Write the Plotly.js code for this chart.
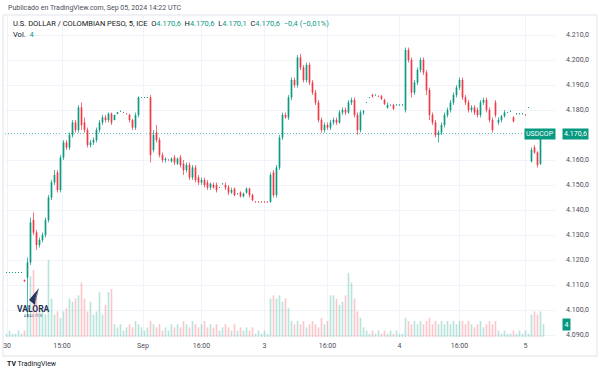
<!DOCTYPE html>
<html><head><meta charset="utf-8">
<script src="https://cdn.plot.ly/plotly-3.0.1.min.js"></script>
<style>html,body{margin:0;padding:0;background:#fff;} #chart{width:600px;height:374px;}</style>
</head><body><div id="chart"></div>
<script>
// ---- Data (USD/COP, 5-minute bars) ----
const openP = [
4115,4115,4115,4115,4115,4115,4112,4113,4119,4136,
4131,4126,4128,4130,4136,4145,4151,4155,4148,4161,
4167,4165,4170,4175,4172,4181,4175,4172,4166,4167,
4168,4172,4175,4177,4176,4178.5,4176,4178.5,4179.5,4179,
4178.5,4178,4176,4173,4178,4185,4185,4185,4185,4164,
4171,4168,4162,4160,4160,4159.5,4161,4158.5,4161,4158.5,
4156,4158,4153,4157,4153,4151,4152,4151,4149,4150,
4150,4149,4150.5,4150,4149,4147,4148.5,4146.5,4147,4145.5,
4147,4148.5,4146,4143.2,4143.2,4143.2,4143.2,4143.2,4143.2,4155,
4146,4157,4169,4178,4177,4185,4192,4190,4201,4197,
4192,4198,4191,4187,4183,4176,4172,4174,4173,4175,
4176,4175,4179,4180,4179,4183,4184,4178,4172,4179,
4183,4185,4186,4186,4185.5,4185.5,4184,4181,4182,4182,
4182,4182,4182,4180,4204,4200,4187,4191,4196,4200,
4195,4188,4178,4175,4170,4171,4174,4178,4180,4183,
4186,4189,4192,4185,4183,4180,4181,4180,4178,4183,
4184,4180,4176,4183,4175,4176,4177.5,4179,4179.5,4177,
4178.5,4178.5,4178.5,4178,4181,4159.5,4165,4163,4158.5,4170.6];
const highP = [
4115,4115.2,4115,4115,4115,4115,4112,4121,4137,4139,
4132,4129,4131,4137,4146,4152,4156,4156,4162,4168,
4168,4171,4176,4176,4182,4183,4177,4173,4168,4169,
4173,4176,4178,4178,4179,4179,4178,4179,4179.5,4179,
4178.5,4178.5,4176.5,4179,4185.5,4185.2,4185,4185,4186,4172,
4174,4169,4163,4161,4160,4161,4162,4161,4162,4160,
4159,4159,4158,4158,4154,4153,4153,4152,4151,4151,
4151,4149,4150.5,4151,4150,4149,4149,4146.5,4147.5,4147,
4149,4149,4146.5,4143.2,4143.2,4143.2,4143.2,4143.2,4155,4156,
4158,4170,4179,4179,4186,4193,4193,4202,4202.5,4198,
4199,4199,4192,4188,4184,4177,4175,4175,4176,4177,
4177,4180,4181,4181,4184,4185,4185,4179,4180,4180,
4183,4185,4186.5,4186,4185.5,4186,4184.5,4183,4182,4182.5,
4182,4182,4182,4205,4205,4201,4192,4197,4201,4201,
4196,4189,4179,4176,4172,4175,4179,4181,4184,4187,
4190,4193,4193,4186,4184,4182,4182,4181,4184,4185,
4185,4181,4177,4184,4177,4178,4180,4179,4179.5,4177.5,
4178.5,4178.5,4178.5,4178,4181,4165,4166,4163.5,4170,4170.6];
const lowP = [
4115,4115,4115,4114.8,4115,4115,4111.5,4097,4118,4130,
4124,4125,4127,4129,4135,4144,4150,4147,4147,4160,
4164,4164,4169,4171,4171,4172,4171,4165,4165,4166,
4167,4171,4174,4175,4175,4174,4176,4178.5,4179.5,4179,
4178.5,4175,4172,4172,4177,4185,4185,4185,4159,4163,
4167,4161,4159,4159,4160,4159,4158,4158,4157,4154,
4155,4152,4152,4151,4150,4150,4149,4148,4148,4148.5,
4147,4149,4150.5,4148,4146,4146.5,4145.5,4146.5,4145,4145,
4146.5,4145,4143.5,4143.2,4143.2,4143.2,4143.2,4143.2,4143,4145,
4145,4156,4168,4176.5,4176,4184,4189,4189,4196,4191,
4191,4190,4186,4182,4175,4171,4171,4172,4172,4174,
4174,4174.5,4178,4178,4178.5,4182,4177,4170,4171,4178,
4183,4185,4185,4186,4185.5,4184,4182,4180.5,4182,4180,
4182,4182,4182,4179,4199,4185,4186,4190,4195,4194,
4186,4176,4174,4169,4167,4170,4173,4177,4179,4182,
4185,4188,4184,4182,4179,4179,4178,4177,4177,4182,
4179,4175,4171,4177,4174,4175,4177,4179,4179.5,4175,
4178.5,4178.5,4178.5,4178,4181,4159,4162.5,4157,4158,4170.1];
const closeP = [
4115,4115,4115,4115,4115,4115,4111.5,4119,4135,4131,
4126,4128,4130,4136,4145,4151,4154,4148,4161,4167,
4165,4170,4175,4172,4181,4174,4172,4166,4167,4168,
4172,4175,4177,4176,4178.5,4175,4178,4179,4179.5,4179,
4178.5,4176,4173,4178,4185,4185,4185,4185,4162,4170,
4168,4162,4160,4160.5,4160,4160.5,4159,4160.5,4158,4156,
4158,4153,4157,4152,4151,4152,4150,4149,4150.5,4149,
4148,4149,4150.5,4149,4147,4148,4146,4146.5,4145.5,4146.5,
4148.5,4146,4144,4143.2,4143.2,4143.2,4143.2,4143.2,4154,4146,
4157,4169,4178,4177,4185,4192,4190,4201,4197,4192,
4198,4191,4187,4183,4176,4172,4174,4173,4175,4176,
4175,4179,4180,4179,4183,4184,4178,4172,4179,4179.5,
4183,4185,4185.5,4186,4185.5,4184.5,4182.5,4182,4182,4180.5,
4182,4182,4182,4204,4200,4187,4191,4196,4200,4195,
4188,4178,4175,4170,4171,4174,4178,4180,4183,4186,
4189,4192,4185,4183,4180,4181,4179,4178,4183,4184,
4180,4176,4172,4178,4176,4177.5,4179,4179,4179.5,4175.5,
4178.5,4178.5,4178.5,4178,4181,4164,4163,4158,4169.5,4170.6];
const volume = [
1,2,1,1,2,1,2,10,19,21,
12,8,9,7,24,12,7,8,6,8,
9,12,11,12,13,17,12,8,11,7,
8,14,7,10,14,15,4,3,4,2,
3,4,3,5,4,3,2,3,5,4,
3,4,2,3,2,4,3,4,3,5,
4,3,5,4,3,4,5,3,4,3,
4,2,3,4,3,2,4,2,3,2,
3,2,3,1,2,1,2,1,12,13,
12,13,11,12,9,5,4,5,4,5,
3,4,5,4,3,6,4,5,13,13,
12,10,11,13,20,17,12,8,6,3,
2,1,2,1,2,1,2,1,2,1,
2,1,1,6,5,4,5,4,5,4,
5,6,4,5,4,5,4,5,4,5,
4,5,5,4,5,4,3,4,5,3,
4,5,4,5,2,1,2,1,1,2,
1,2,1,2,1,7,8,7,8,4];
const timeTickPos = [0.2, 18.5, 45.5, 65, 86, 107, 131, 151, 173];
const timeTickLabels = ['30', '15:00', 'Sep', '16:00', '3', '16:00', '4', '16:00', '5'];
// 4.170,0 is hidden behind the last-price tag in the reference
const priceTicks = [4090, 4100, 4110, 4120, 4130, 4140, 4150, 4160, 4180, 4190, 4200, 4210];
const hiddenGridPrice = 4170;

// ---- Geometry helpers (page is 600x374) ----
const W = 600, H = 374, ML = 5, MR = 45, MT = 16, MB = 37;
const PW = W - ML - MR, PH = H - MT - MB;
const pxX = p => (p - ML) / PW;
const pxY = p => (H - MB - p) / PH;

const UP = '#089981', DOWN = '#f23645';
const FONT = 'Roboto, Arial, sans-serif';
const idx = closeP.map((_, i) => i);
const last = closeP.length - 1;
const volColors = closeP.map((c, i) => c >= openP[i] ? 'rgba(8,153,129,0.28)' : 'rgba(242,54,69,0.28)');

const data = [
  { type: 'bar', x: idx, y: volume, xaxis: 'x', yaxis: 'y',
    marker: { color: volColors, line: { width: 0 } }, hoverinfo: 'skip' },
  { type: 'candlestick', x: idx, open: openP, high: highP, low: lowP, close: closeP,
    xaxis: 'x', yaxis: 'y2', whiskerwidth: 0,
    increasing: { line: { color: UP, width: 0.7 }, fillcolor: UP },
    decreasing: { line: { color: DOWN, width: 0.7 }, fillcolor: DOWN },
    hoverinfo: 'skip' }
];

const g = '#f0f3fa';
const layout = {
  width: W, height: H,
  margin: { l: ML, r: MR, t: MT, b: MB },
  paper_bgcolor: '#ffffff', plot_bgcolor: '#ffffff',
  showlegend: false, separators: ',.',
  bargap: 0.45, boxgap: 0.55,
  font: { family: FONT, size: 7, color: '#4a4e5a' },
  xaxis: {
    range: [-0.5, (555 - 6.5) / 3], rangeslider: { visible: false },
    tickvals: timeTickPos, ticktext: timeTickLabels, tickmode: 'array',
    showgrid: true, gridcolor: g, gridwidth: 1, zeroline: false, showline: false,
    ticks: '', ticklabelstandoff: 3, tickfont: { size: 7, color: '#4a4e5a', family: FONT },
    fixedrange: true
  },
  yaxis: { domain: [0, 1], range: [0, PH / 3.2], visible: false, fixedrange: true, showgrid: false },
  yaxis2: {
    overlaying: 'y', side: 'right', range: [4089.2, 4217.6],
    tickvals: priceTicks, tickformat: ',.1f',
    showgrid: true, gridcolor: g, gridwidth: 1, zeroline: false, showline: false,
    ticks: '', ticklabelstandoff: 10, tickfont: { size: 7, color: '#4a4e5a', family: FONT },
    fixedrange: true
  },
  shapes: [
    { type: 'rect', xref: 'paper', yref: 'paper', x0: pxX(3), x1: pxX(597), y0: pxY(356), y1: pxY(15),
      line: { color: '#e0e3eb', width: 1 }, fillcolor: 'rgba(0,0,0,0)', layer: 'below' },
    { type: 'line', xref: 'paper', yref: 'y2', x0: 0, x1: 1, y0: hiddenGridPrice, y1: hiddenGridPrice,
      line: { color: g, width: 1 }, layer: 'below' },
    { type: 'line', xref: 'paper', yref: 'y2', x0: 0, x1: 1, y0: closeP[last], y1: closeP[last],
      line: { color: 'rgba(8,153,129,0.6)', width: 1, dash: '1px,2px' }, layer: 'below' },
    { type: 'path', xref: 'paper', yref: 'paper',
      path: `M ${pxX(39)} ${pxY(288)} L ${pxX(29)} ${pxY(300)} L ${pxX(35)} ${pxY(305)} L ${pxX(36)} ${pxY(296)} Z`,
      fillcolor: '#27345a', line: { width: 0 }, layer: 'above' },
    { type: 'path', xref: 'paper', yref: 'paper',
      path: `M ${pxX(39)} ${pxY(288)} L ${pxX(36)} ${pxY(296)} L ${pxX(35)} ${pxY(305)} Z`,
      fillcolor: '#5b6b93', line: { width: 0 }, layer: 'above' }
  ],
  annotations: [
    { xref: 'paper', yref: 'paper', x: pxX(6), y: pxY(8), xanchor: 'left', yanchor: 'middle', showarrow: false,
      text: 'Publicado en TradingView.com, Sep 05, 2024 14:22 UTC', font: { size: 7, color: '#4a4e5a', family: FONT } },
    { xref: 'paper', yref: 'paper', x: pxX(11), y: pxY(23), xanchor: 'left', yanchor: 'middle', showarrow: false,
      text: 'U.S. DOLLAR / COLOMBIAN PESO, 5, ICE  O<span style="color:' + UP + '">4.170,6</span>  H<span style="color:' + UP + '">4.170,6</span>  L<span style="color:' + UP + '">4.170,1</span>  C<span style="color:' + UP + '">4.170,6</span>  <span style="color:' + UP + '">−0,4 (−0,01%)</span>',
      font: { size: 7.5, color: '#131722', family: FONT } },
    { xref: 'paper', yref: 'paper', x: pxX(11), y: pxY(34), xanchor: 'left', yanchor: 'middle', showarrow: false,
      text: 'Vol.  <span style="color:' + UP + '">4</span>', font: { size: 7.5, color: '#131722', family: FONT } },
    { xref: 'paper', yref: 'y2', x: pxX(556), y: closeP[last], xanchor: 'right', yanchor: 'middle', showarrow: false,
      text: 'USDCOP', bgcolor: UP, borderpad: 1, font: { size: 7, color: '#ffffff', family: FONT } },
    { xref: 'paper', yref: 'y2', x: pxX(562), y: closeP[last], xanchor: 'left', yanchor: 'middle', showarrow: false,
      text: '4.170,6', bgcolor: UP, borderpad: 1, font: { size: 7, color: '#ffffff', family: FONT } },
    { xref: 'paper', yref: 'y', x: pxX(562), y: volume[last], xanchor: 'left', yanchor: 'middle', showarrow: false,
      text: String(volume[last]), bgcolor: UP, borderpad: 1.5, font: { size: 7, color: '#ffffff', family: FONT } },
    { xref: 'paper', yref: 'paper', x: pxX(33), y: pxY(309), xanchor: 'center', yanchor: 'middle', showarrow: false,
      text: '<b>VALORA</b>', font: { size: 8.5, color: '#27345a', family: FONT } },
    { xref: 'paper', yref: 'paper', x: pxX(33), y: pxY(316), xanchor: 'center', yanchor: 'middle', showarrow: false,
      text: 'A N A L I T I K', font: { size: 3, color: '#27345a', family: FONT } },
    { xref: 'paper', yref: 'paper', x: pxX(5), y: pxY(364), xanchor: 'left', yanchor: 'middle', showarrow: false,
      text: '<b>TV</b> TradingView', font: { size: 7, color: '#131722', family: FONT } }
  ]
};

Plotly.newPlot('chart', data, layout, { staticPlot: true, displayModeBar: false });
</script>
</body></html>
